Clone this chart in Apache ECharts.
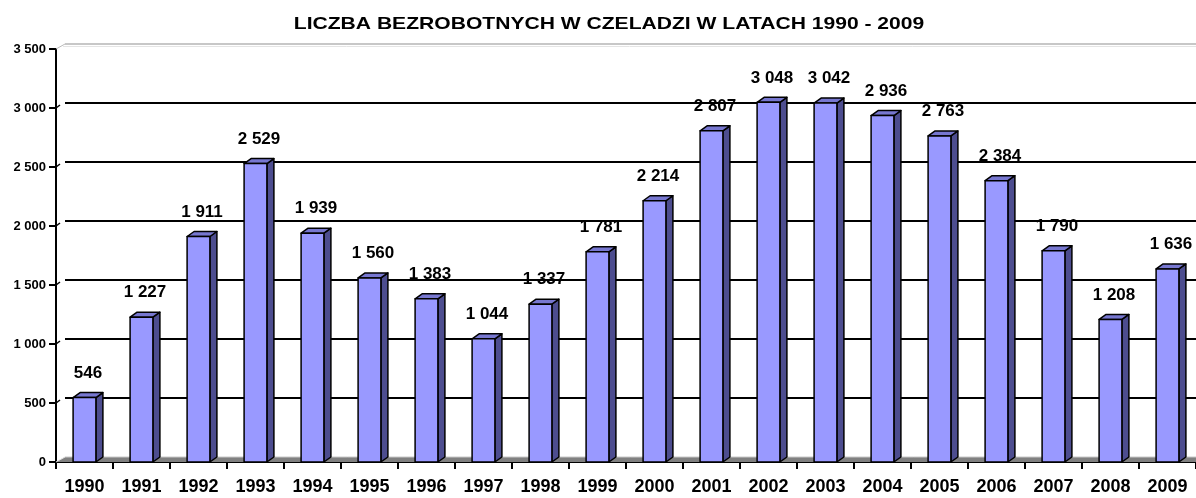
<!DOCTYPE html>
<html>
<head>
<meta charset="utf-8">
<script src="https://cdn.jsdelivr.net/npm/echarts@6/dist/echarts.min.js"></script>
<style>
  html, body { margin: 0; padding: 0; background: #fff; }
  #chart { width: 1196px; height: 498px; }
</style>
</head>
<body>
<div id="chart"></div>
<script>
// liczba bezrobotnych w Czeladzi
var years = ['1990', '1991', '1992', '1993', '1994', '1995', '1996', '1997', '1998', '1999',
             '2000', '2001', '2002', '2003', '2004', '2005', '2006', '2007', '2008', '2009'];
var unemployed = [546, 1227, 1911, 2529, 1939, 1560, 1383, 1044, 1337, 1781,
                  2214, 2807, 3048, 3042, 2936, 2763, 2384, 1790, 1208, 1636];
var yTicks = [0, 500, 1000, 1500, 2000, 2500, 3000, 3500];
var chartTitle = 'LICZBA BEZROBOTNYCH W CZELADZI W LATACH 1990 - 2009';

var FONT = 'Arial, "Liberation Sans", sans-serif';
var DX = 7, DY = 5;        // glebokosc slupka
var WX = 9, WY = 5;        // przesuniecie tylnej sciany

function fmt(v) {
    v = Math.round(v);
    if (v < 1000) return String(v);
    return Math.floor(v / 1000) + ' ' + String(v % 1000).padStart(3, '0');
}

var chart = echarts.init(document.getElementById('chart'));

var option = {
    animation: false,
    graphic: [
        {
            // tytul - w oryginale rozciagniety w poziomie
            type: 'text',
            x: 609,
            y: 24,
            scaleX: 1.24,
            style: {
                text: chartTitle,
                align: 'center',
                verticalAlign: 'middle',
                fill: '#000',
                font: 'bold 17px ' + FONT
            }
        }
    ],
    grid: { left: 56, top: 49, width: 1142, height: 413 },
    xAxis: {
        type: 'category',
        data: years,
        boundaryGap: true,
        axisLine: { lineStyle: { color: '#000', width: 2 } },
        axisTick: { show: true, interval: 0, length: 7, lineStyle: { color: '#000', width: 2 } },
        axisLabel: { interval: 0, margin: 16, color: '#000', fontFamily: FONT, fontSize: 18, fontWeight: 'bold' },
        splitLine: { show: false }
    },
    yAxis: {
        type: 'value',
        min: 0,
        max: 3500,
        interval: 500,
        axisLine: { show: true, lineStyle: { color: '#000', width: 2 } },
        axisTick: { show: true, length: 7, lineStyle: { color: '#000', width: 2 } },
        axisLabel: { margin: 10, color: '#000', fontFamily: FONT, fontSize: 13, fontWeight: 'bold', formatter: fmt },
        splitLine: { show: false }
    },
    series: [
        {
            // tylna sciana i podloga
            type: 'custom',
            z: 1,
            silent: true,
            encode: { x: 0, y: 1 },
            data: yTicks.map(function (t) { return [0, t]; }),
            renderItem: function (params, api) {
                var cs = params.coordSys;
                var y = api.coord([0, api.value(1)])[1];
                var x0 = cs.x;
                var xr = cs.x + cs.width;
                var t = api.value(1);
                if (t === 0) {
                    return {
                        type: 'group',
                        children: [
                            { type: 'polygon', shape: { points: [[x0, y], [x0 + WX, y - WY], [xr, y - WY], [xr, y]] },
                              style: { fill: '#808080' } },
                            { type: 'line', shape: { x1: x0, y1: y, x2: x0 + WX, y2: y - WY },
                              style: { stroke: '#e0e0e0', lineWidth: 1 } },
                            { type: 'line', shape: { x1: x0 + WX, y1: y - WY, x2: xr, y2: y - WY },
                              style: { stroke: '#c8c8c8', lineWidth: 1 } }
                        ]
                    };
                }
                if (t === 3500) {
                    return {
                        type: 'group',
                        children: [
                            { type: 'line', shape: { x1: x0, y1: y, x2: x0 + WX, y2: y - WY },
                              style: { stroke: '#bbbbbb', lineWidth: 1 } },
                            { type: 'line', shape: { x1: x0 + WX, y1: y - WY, x2: xr, y2: y - WY },
                              style: { stroke: '#b4b4b4', lineWidth: 1.5 } },
                            { type: 'line', shape: { x1: x0 + WX - 2, y1: y - WY + 2.5, x2: xr, y2: y - WY + 2.5 },
                              style: { stroke: '#e4e4e4', lineWidth: 1 } }
                        ]
                    };
                }
                return {
                    type: 'group',
                    children: [
                        { type: 'line', shape: { x1: x0, y1: y, x2: x0 + 4, y2: y - 3 },
                          style: { stroke: '#000', lineWidth: 1.5 } },
                        { type: 'line', shape: { x1: x0 + WX, y1: y - WY, x2: xr, y2: y - WY },
                          style: { stroke: '#000', lineWidth: 2 } }
                    ]
                };
            }
        },
        {
            // slupki 3D
            type: 'custom',
            z: 5,
            encode: { x: 0, y: 1 },
            data: unemployed.map(function (v, i) { return [i, v]; }),
            renderItem: function (params, api) {
                var i = api.value(0);
                var v = api.value(1);
                var top = api.coord([i, v]);
                var base = api.coord([i, 0]);
                var w = api.size([1, 0])[0] * 0.4;
                var x = top[0] - w / 2;
                var y = top[1];
                var b = base[1];
                var stroke = { stroke: '#000', lineWidth: 1.5, lineJoin: 'round' };
                return {
                    type: 'group',
                    children: [
                        { type: 'polygon',
                          shape: { points: [[x + w, y], [x + w + DX, y - DY], [x + w + DX, b - DY], [x + w, b]] },
                          style: Object.assign({ fill: '#4d4d8f' }, stroke) },
                        { type: 'polygon',
                          shape: { points: [[x, y], [x + DX, y - DY], [x + w + DX, y - DY], [x + w, y]] },
                          style: Object.assign({ fill: '#7777d0' }, stroke) },
                        { type: 'rect',
                          shape: { x: x, y: y, width: w, height: b - y },
                          style: Object.assign({ fill: '#9999ff' }, stroke) },
                        { type: 'text',
                          style: {
                              x: top[0] + DX / 2, y: y - DY - 11,
                              text: fmt(v),
                              align: 'center', verticalAlign: 'bottom',
                              fill: '#000', font: 'bold 17px ' + FONT
                          } }
                    ]
                };
            }
        }
    ]
};

chart.setOption(option);
window.addEventListener('resize', function () {
    chart.resize();
});
</script>
</body>
</html>
